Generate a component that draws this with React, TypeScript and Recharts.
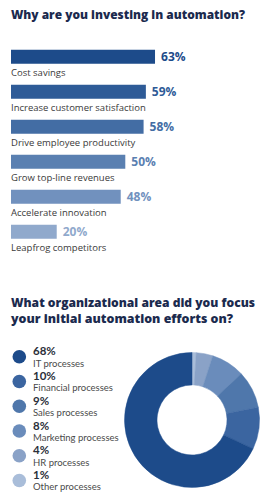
import React from 'react';
import { BarChart, Bar, XAxis, YAxis, LabelList, Cell, PieChart, Pie } from 'recharts';

const reasons = [
  'Cost savings',
  'Increase customer satisfaction',
  'Drive employee productivity',
  'Grow top-line revenues',
  'Accelerate innovation',
  'Leapfrog competitors',
];
const reasonValues = [63, 59, 58, 50, 48, 20];
const reasonColors = ['#1d4b8a', '#2e5b97', '#436da4', '#5a80b1', '#7191be', '#90a9cc'];

const areas = [
  'IT processes',
  'Financial processes',
  'Sales processes',
  'Marketing processes',
  'HR processes',
  'Other processes',
];
const areaValues = [68, 10, 9, 8, 4, 1];
const areaColors = ['#1d4b8a', '#3b65a0', '#4f77ab', '#6a8cbb', '#8aa2c7', '#a9bdd9'];

const title1 = 'Why are you investing in automation?';
const title2 = ['What organizational area did you focus', 'your initial automation efforts on?'];

const barData = reasons.map((name, i) => ({ name, value: reasonValues[i], color: reasonColors[i] }));
const pieData = areas
  .map((name, i) => ({ name, value: areaValues[i], color: areaColors[i] }))
  .slice()
  .reverse();

const FONT = '"Open Sans", sans-serif';
const LEG_FONT = 'Lato, "Open Sans", sans-serif';

const ValueLabel = (props: any) => {
  const { x, y, width, height, value, index } = props;
  const color = reasonColors[index] ?? reasonColors[0];
  return (
    <text
      x={Number(x) + Number(width) + 6}
      y={Number(y) + Number(height) / 2}
      dominantBaseline="central"
      fill={color}
      fontFamily={FONT}
      fontWeight={700}
      fontSize={12}
    >
      {value}%
    </text>
  );
};

const NameLabel = (props: any) => {
  const { x, y, height, value } = props;
  return (
    <text
      x={Number(x)}
      y={Number(y) + Number(height) + 11.7}
      fill="#3a3a3a"
      fontFamily={FONT}
      fontSize={9.5}
    >
      {value}
    </text>
  );
};

const titleStyle = { fill: '#1b2a4e', fontFamily: FONT, fontWeight: 800, fontSize: 12.4 } as const;

export default function App() {
  return (
    <div
      style={{
        position: 'relative',
        width: 275,
        height: 503,
        margin: -8,
        overflow: 'hidden',
        background: '#ffffff',
      }}
    >
      <svg width={275} height={503} style={{ position: 'absolute', left: 0, top: 0 }}>
        <text x={11} y={18.5} {...titleStyle} textLength={234} lengthAdjust="spacingAndGlyphs">
          {title1}
        </text>
        <text x={11} y={307} {...titleStyle} textLength={244} lengthAdjust="spacingAndGlyphs">
          {title2[0]}
        </text>
        <text x={11} y={323} {...titleStyle} textLength={222} lengthAdjust="spacingAndGlyphs">
          {title2[1]}
        </text>
        {areas.map((name, i) => {
          const cy = 356.7 + i * 24.75;
          return (
            <g key={name}>
              <circle cx={19.3} cy={cy} r={6.8} fill={areaColors[i]} />
              <text x={33} y={cy - 1.4} fill="#2b2f3a" fontFamily={LEG_FONT} fontWeight={700} fontSize={11.5}>
                {areaValues[i]}%
              </text>
              <text x={33} y={cy + 10} fill="#4a4a4a" fontFamily={LEG_FONT} fontSize={9.5}>
                {name}
              </text>
            </g>
          );
        })}
      </svg>

      <div style={{ position: 'absolute', left: 0, top: 0 }}>
        <BarChart
          width={275}
          height={260}
          data={barData}
          layout="vertical"
          margin={{ top: 38.8, right: 35.4, bottom: 11.2, left: 11 }}
        >
          <XAxis type="number" domain={[0, 100]} hide />
          <YAxis type="category" dataKey="name" hide width={0} />
          <Bar dataKey="value" barSize={14} isAnimationActive={false}>
            {barData.map((d) => (
              <Cell key={d.name} fill={d.color} />
            ))}
            <LabelList dataKey="value" content={<ValueLabel />} />
            <LabelList dataKey="name" content={<NameLabel />} />
          </Bar>
        </BarChart>
      </div>

      <div style={{ position: 'absolute', left: 117, top: 345 }}>
        <PieChart width={150} height={150} margin={{ top: 0, right: 0, bottom: 0, left: 0 }}>
          <Pie
            data={pieData}
            dataKey="value"
            nameKey="name"
            cx={75}
            cy={75}
            innerRadius={35}
            outerRadius={67.5}
            startAngle={90}
            endAngle={-270}
            isAnimationActive={false}
          >
            {pieData.map((d) => (
              <Cell key={d.name} fill={d.color} stroke={d.color} strokeWidth={0.5} />
            ))}
          </Pie>
        </PieChart>
      </div>
    </div>
  );
}
